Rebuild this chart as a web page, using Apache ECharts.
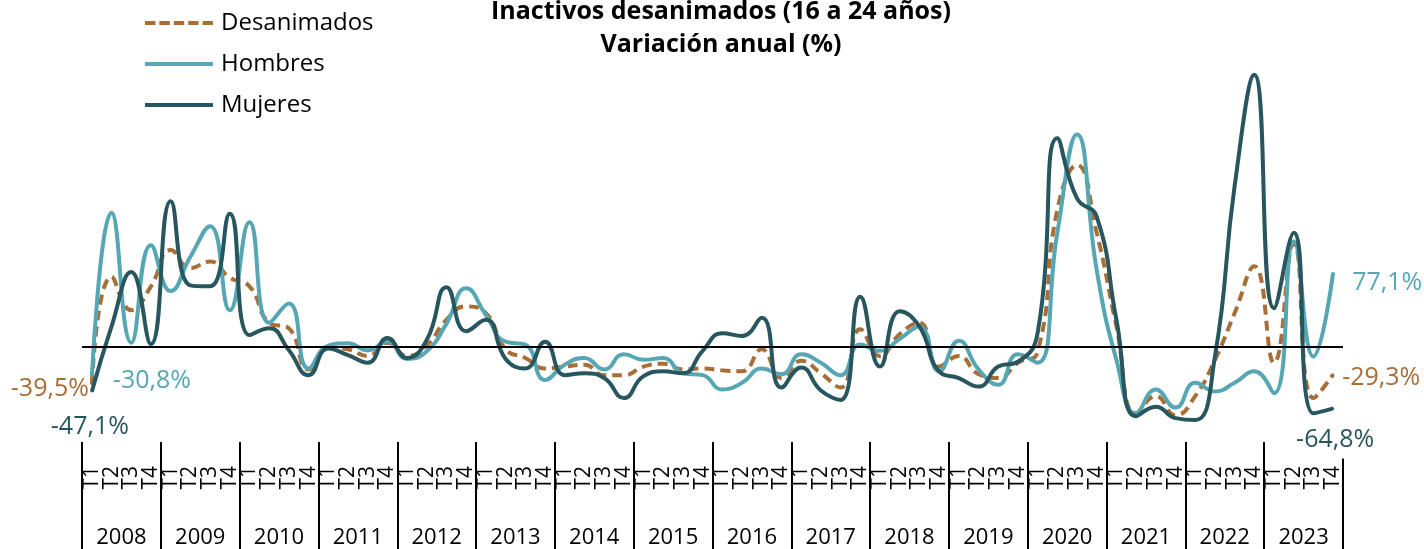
<!DOCTYPE html>
<html>
<head>
<meta charset="utf-8">
<script src="https://cdn.jsdelivr.net/npm/echarts@6/dist/echarts.min.js"></script>
<style>
  html, body { margin: 0; padding: 0; background: #fff; }
  #chart { width: 1424px; height: 549px; }
</style>
</head>
<body>
<div id="chart"></div>
<script>
// Quarterly year-on-year change (%) of discouraged inactive people aged 16-24
const years = ['2008','2009','2010','2011','2012','2013','2014','2015',
               '2016','2017','2018','2019','2020','2021','2022','2023'];
const quarters = ['T1','T2','T3','T4'];

const desanimados = [
  -39.5, 73, 38, 63, 101, 82, 89, 72, 63, 25, 19, -24,
  -1, -3, -10, 4, -10, 1, 28, 42, 35, -3, -12, -23,
  -21, -19, -30, -30, -21, -18, -24, -23, -25, -26, -3, -33,
  -15, -28, -43, 18, -10, 13, 25, -21, -10, -29, -33, -17,
  -6, 143, 190, 119, 21, -70, -52, -72, -52, -14, 35, 84,
  -17, 108, -54, -29.3
];
const hombres = [
  -30.8, 140, 4, 106, 58, 94, 126, 38, 130, 25, 45, -23,
  1, 3.5, -4, 5, -13, -5, 24, 61, 33, 5, 2, -35,
  -19, -12, -24, -8, -14, -12, -28, -30, -45, -38, -23, -29,
  -8, -17, -30, 2, -4.5, 8, 21, -26, 6, -24, -40, -8,
  -17, 119, 222, 80, -14, -70, -45, -64, -38, -47, -38, -26,
  -49, 110, -10.5, 77.1
];
const mujeres = [
  -47.1, 21, 78, 2.5, 152, 64, 63, 139, 12, 19, -4, -30,
  -2, -9, -17, 9, -12, 7, 62, 16, 28, -13, -23, 5,
  -30, -28, -33, -54, -31, -26, -28, -4.5, 14, 11, 30, -43,
  -22, -46, -56, 52, -21, 37, 21, -26, -33, -42, -21, -16,
  14, 218, 155, 136, 28, -73, -63, -75, -77, -10.5, 168, 284.5,
  40, 119, -70, -64.8
];

const COLORS = { des: '#A86E38', hom: '#56A7B3', muj: '#28565E' };
const FONT = '"Open Sans", "Noto Sans", sans-serif';

// Legend swatches: a dashed bar and a solid bar
const ICON_DASHED = 'path://M0,0h10.4v4h-10.4z M14.4,0h10.4v4h-10.4z M28.8,0h10.4v4h-10.4z M43.2,0h10.4v4h-10.4z M57.6,0h10.4v4h-10.4z';
const ICON_SOLID = 'path://M0,0h68v4h-68z';

// one tick label per quarter, for every year
const quarterLabels = [];
years.forEach(() => quarters.forEach(q => quarterLabels.push(q)));

const fmt = v => v.toFixed(1).replace('.', ',') + '%';

// First and last points carry a tiny symbol so that their value label can be drawn
function withEndLabels(values, color, firstLabel, lastLabel) {
  return values.map((v, i) => {
    if (i === 0 || i === values.length - 1) {
      const cfg = i === 0 ? firstLabel : lastLabel;
      return {
        value: v,
        symbol: 'circle',
        symbolSize: 2,
        label: Object.assign({
          show: true,
          formatter: p => fmt(p.value),
          color: color,
          fontSize: 25,
          fontFamily: FONT
        }, cfg)
      };
    }
    return v;
  });
}

const chart = echarts.init(document.getElementById('chart'), null, { renderer: 'canvas' });

chart.setOption({
  animation: false,
  backgroundColor: '#fff',
  title: {
    text: 'Inactivos desanimados (16 a 24 años)\nVariación anual (%)',
    left: 716,
    top: -10,
    textAlign: 'center',
    textStyle: {
      fontFamily: FONT,
      fontWeight: 'bold',
      fontSize: 25,
      lineHeight: 33,
      color: '#000'
    }
  },
  legend: {
    orient: 'vertical',
    left: 140,
    top: 6,
    itemWidth: 68,
    itemHeight: 4,
    itemGap: 17,
    data: [
      { name: 'Desanimados', icon: ICON_DASHED },
      { name: 'Hombres', icon: ICON_SOLID },
      { name: 'Mujeres', icon: ICON_SOLID }
    ],
    textStyle: { fontFamily: FONT, fontSize: 24, color: '#000', padding: [0, 0, 0, 3] }
  },
  grid: { left: 82, right: 81, top: 60, height: 382, containLabel: false },
  xAxis: [
    {
      type: 'category',
      data: quarterLabels,
      position: 'bottom',
      boundaryGap: true,
      axisLine: { show: false },
      axisTick: { show: false },
      axisLabel: {
        interval: 0,
        rotate: 90,
        margin: 24,
        fontFamily: FONT,
        fontSize: 21,
        color: '#000'
      }
    },
    {
      type: 'category',
      data: years,
      position: 'bottom',
      boundaryGap: true,
      axisLine: { show: false },
      axisTick: {
        show: true,
        interval: 0,
        length: 110,
        lineStyle: { color: '#000', width: 2 }
      },
      axisLabel: {
        interval: 0,
        margin: 85,
        fontFamily: FONT,
        fontSize: 22,
        color: '#000'
      }
    }
  ],
  yAxis: {
    type: 'value',
    min: -100,
    max: 300,
    show: false,
    splitLine: { show: false }
  },
  series: [
    {
      name: 'Desanimados',
      type: 'line',
      xAxisIndex: 0,
      smooth: 0.5,
      symbol: 'none',
      z: 2,
      lineStyle: { color: COLORS.des, width: 4, type: [10, 6] },
      itemStyle: { color: COLORS.des },
      data: withEndLabels(desanimados, COLORS.des,
        { position: 'left', distance: 2, offset: [0, 5] },
        { position: 'right', distance: 8, offset: [0, 3] }),
      markLine: {
        silent: true,
        symbol: 'none',
        label: { show: false },
        lineStyle: { color: '#000', width: 2, type: 'solid' },
        data: [{ yAxis: 0 }]
      }
    },
    {
      name: 'Hombres',
      type: 'line',
      xAxisIndex: 0,
      smooth: 0.5,
      symbol: 'none',
      z: 3,
      lineStyle: { color: COLORS.hom, width: 4 },
      itemStyle: { color: COLORS.hom },
      data: withEndLabels(hombres, COLORS.hom,
        { position: 'right', distance: 20, offset: [0, 5] },
        { position: 'right', distance: 18, offset: [0, 10] })
    },
    {
      name: 'Mujeres',
      type: 'line',
      xAxisIndex: 0,
      smooth: 0.5,
      symbol: 'none',
      z: 4,
      lineStyle: { color: COLORS.muj, width: 4 },
      itemStyle: { color: COLORS.muj },
      data: withEndLabels(mujeres, COLORS.muj,
        { position: 'bottom', distance: 22, offset: [-2, 0] },
        { position: 'bottom', distance: 18, offset: [2, 0],
          backgroundColor: '#fff', padding: [0, 2, 6, 2] })
    }
  ]
});
</script>
</body>
</html>
